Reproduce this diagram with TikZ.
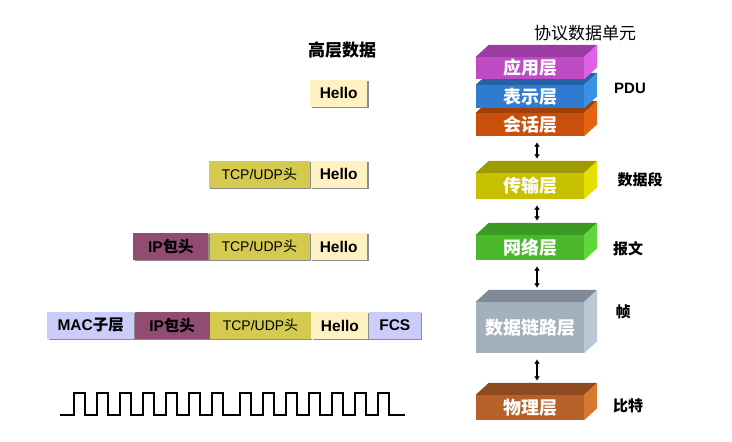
\documentclass[tikz,border=0pt]{standalone}
\usepackage{fontspec}
\setmainfont{Liberation Sans}
\newfontfamily\cjk{Noto Sans CJK SC}
\usetikzlibrary{positioning}
\usetikzlibrary{calc}
\usetikzlibrary{arrows.meta}
\usetikzlibrary{shadows}
\definecolor{appF}{RGB}{190,75,196}
\definecolor{appT}{RGB}{156,59,163}
\definecolor{appS}{RGB}{224,96,230}
\definecolor{preF}{RGB}{46,123,208}
\definecolor{preT}{RGB}{36,97,166}
\definecolor{preS}{RGB}{58,146,230}
\definecolor{sesF}{RGB}{200,80,10}
\definecolor{sesT}{RGB}{158,64,8}
\definecolor{sesS}{RGB}{229,100,16}
\definecolor{traF}{RGB}{198,192,0}
\definecolor{traT}{RGB}{158,154,0}
\definecolor{traS}{RGB}{230,224,0}
\definecolor{netF}{RGB}{76,184,44}
\definecolor{netT}{RGB}{60,154,34}
\definecolor{netS}{RGB}{92,216,58}
\definecolor{dllF}{RGB}{164,176,188}
\definecolor{dllT}{RGB}{126,138,150}
\definecolor{dllS}{RGB}{186,200,214}
\definecolor{phyF}{RGB}{184,96,42}
\definecolor{phyT}{RGB}{142,74,30}
\definecolor{phyS}{RGB}{216,120,48}
\definecolor{helloC}{RGB}{255,242,194}
\definecolor{tcpC}{RGB}{212,202,80}
\definecolor{ipC}{RGB}{145,76,114}
\definecolor{macC}{RGB}{204,204,250}
% one 3D layer: name, top of front, height, colour prefix, text
\newcommand{\layerbox}[5]{%
  \node[layer, fill=#4F, minimum height=#3pt] (#1) at (530,#2+#3/2) {#5};
  \fill[#4T] (#1.north west) -- ++(13,-12) -- ([shift={(13,-12)}]#1.north east) -- (#1.north east) -- cycle;
  \fill[#4S] (#1.north east) -- ++(13,-12) -- ([shift={(13,-12)}]#1.south east) -- (#1.south east) -- cycle;
}

\begin{document}
\begin{tikzpicture}[
    x=1pt, y=-1pt,
    layer/.style={rectangle, inner sep=0pt, minimum width=108pt, text=white, font=\cjk\bfseries\fontsize{18}{18}\selectfont},
    pkt/.style={rectangle, inner sep=0pt, minimum height=27pt, font=\bfseries\fontsize{15.5}{15.5}\selectfont,
        drop shadow={shadow xshift=1.3pt, shadow yshift=-1.3pt, fill=black!45, opacity=1}},
    hello/.style={pkt, fill=helloC, minimum width=57pt},
    tcp/.style={pkt, fill=tcpC, minimum width=101pt, font=\fontsize{14}{14}\selectfont},
    iphd/.style={pkt, fill=ipC, minimum width=75pt},
    mac/.style={pkt, fill=macC, minimum width=87pt},
    fcs/.style={pkt, fill=macC, minimum width=52pt},
    tag/.style={font=\cjk\bfseries\fontsize{15}{15}\selectfont},
    updown/.style={{Latex[length=4.5pt,width=6pt]}-{Latex[length=4.5pt,width=6pt]}, line width=2pt, shorten <=6pt, shorten >=14pt},
    signal/.style={line width=2pt}
]
    \useasboundingbox (0,0) rectangle (732,442);

    % Titles
    \node[font=\cjk\fontsize{17}{17}\selectfont] (pdutitle) at (585,33) {协议数据单元};
    \node[font=\cjk\bfseries\fontsize{17}{17}\selectfont] (datatitle) at (342,50) {高层数据};

    % Packets
    \node[hello, anchor=west] (hello1) at (310,93) {Hello};

    \node[hello, anchor=west] (hello2) at (310,174) {Hello};
    \node[tcp, left=0pt of hello2] (tcp2) {TCP/UDP{\cjk 头}};

    \node[hello, anchor=west] (hello3) at (310,246.5) {Hello};
    \node[tcp, left=0pt of hello3] (tcp3) {TCP/UDP{\cjk 头}};
    \node[iphd, left=0pt of tcp3] (ip3) {IP{\cjk 包头}};

    \node[mac, anchor=west] (mac4) at (47,325.5) {MAC{\cjk 子层}};
    \node[iphd, right=0pt of mac4] (ip4) {IP{\cjk 包头}};
    \node[tcp, right=0pt of ip4] (tcp4) {TCP/UDP{\cjk 头}};
    \node[hello, right=0pt of tcp4] (hello4) {Hello};
    \node[fcs, right=0pt of hello4] (fcs4) {FCS};

    % Bits
    \draw[signal] (60,415)
        \foreach \x in {74,97,120,143,166,189,212,240,263,286,309,332,355,378} {
            -- (\x,415) -- (\x,393) -- (\x+11,393) -- (\x+11,415) }
        -- (405,415);

    % Layers
    \layerbox{session}{113}{23}{ses}{会话层}
    \layerbox{present}{85}{23}{pre}{表示层}
    \layerbox{applic}{57}{22}{app}{应用层}
    \layerbox{transp}{173}{26}{tra}{传输层}
    \layerbox{network}{235}{25}{net}{网络层}
    \layerbox{datalink}{302}{51}{dll}{数据链路层}
    \layerbox{physic}{395}{25}{phy}{物理层}

    % Arrows
    \draw[updown] ([xshift=7pt]session.south) -- ([xshift=7pt]transp.north);
    \draw[updown] ([xshift=7pt]transp.south) -- ([xshift=7pt]network.north);
    \draw[updown] ([xshift=7pt]network.south) -- ([xshift=7pt]datalink.north);
    \draw[updown] ([xshift=7pt]datalink.south) -- ([xshift=7pt]physic.north);

    % Unit names
    \node[font=\bfseries\fontsize{15}{15}\selectfont] (pdu) at (630,88) {PDU};
    \node[tag] (segment) at (640,180) {数据段};
    \node[tag] (packet) at (628,249) {报文};
    \node[tag] (frame) at (623,312) {帧};
    \node[tag] (bit) at (628,406) {比特};
\end{tikzpicture}
\end{document}
